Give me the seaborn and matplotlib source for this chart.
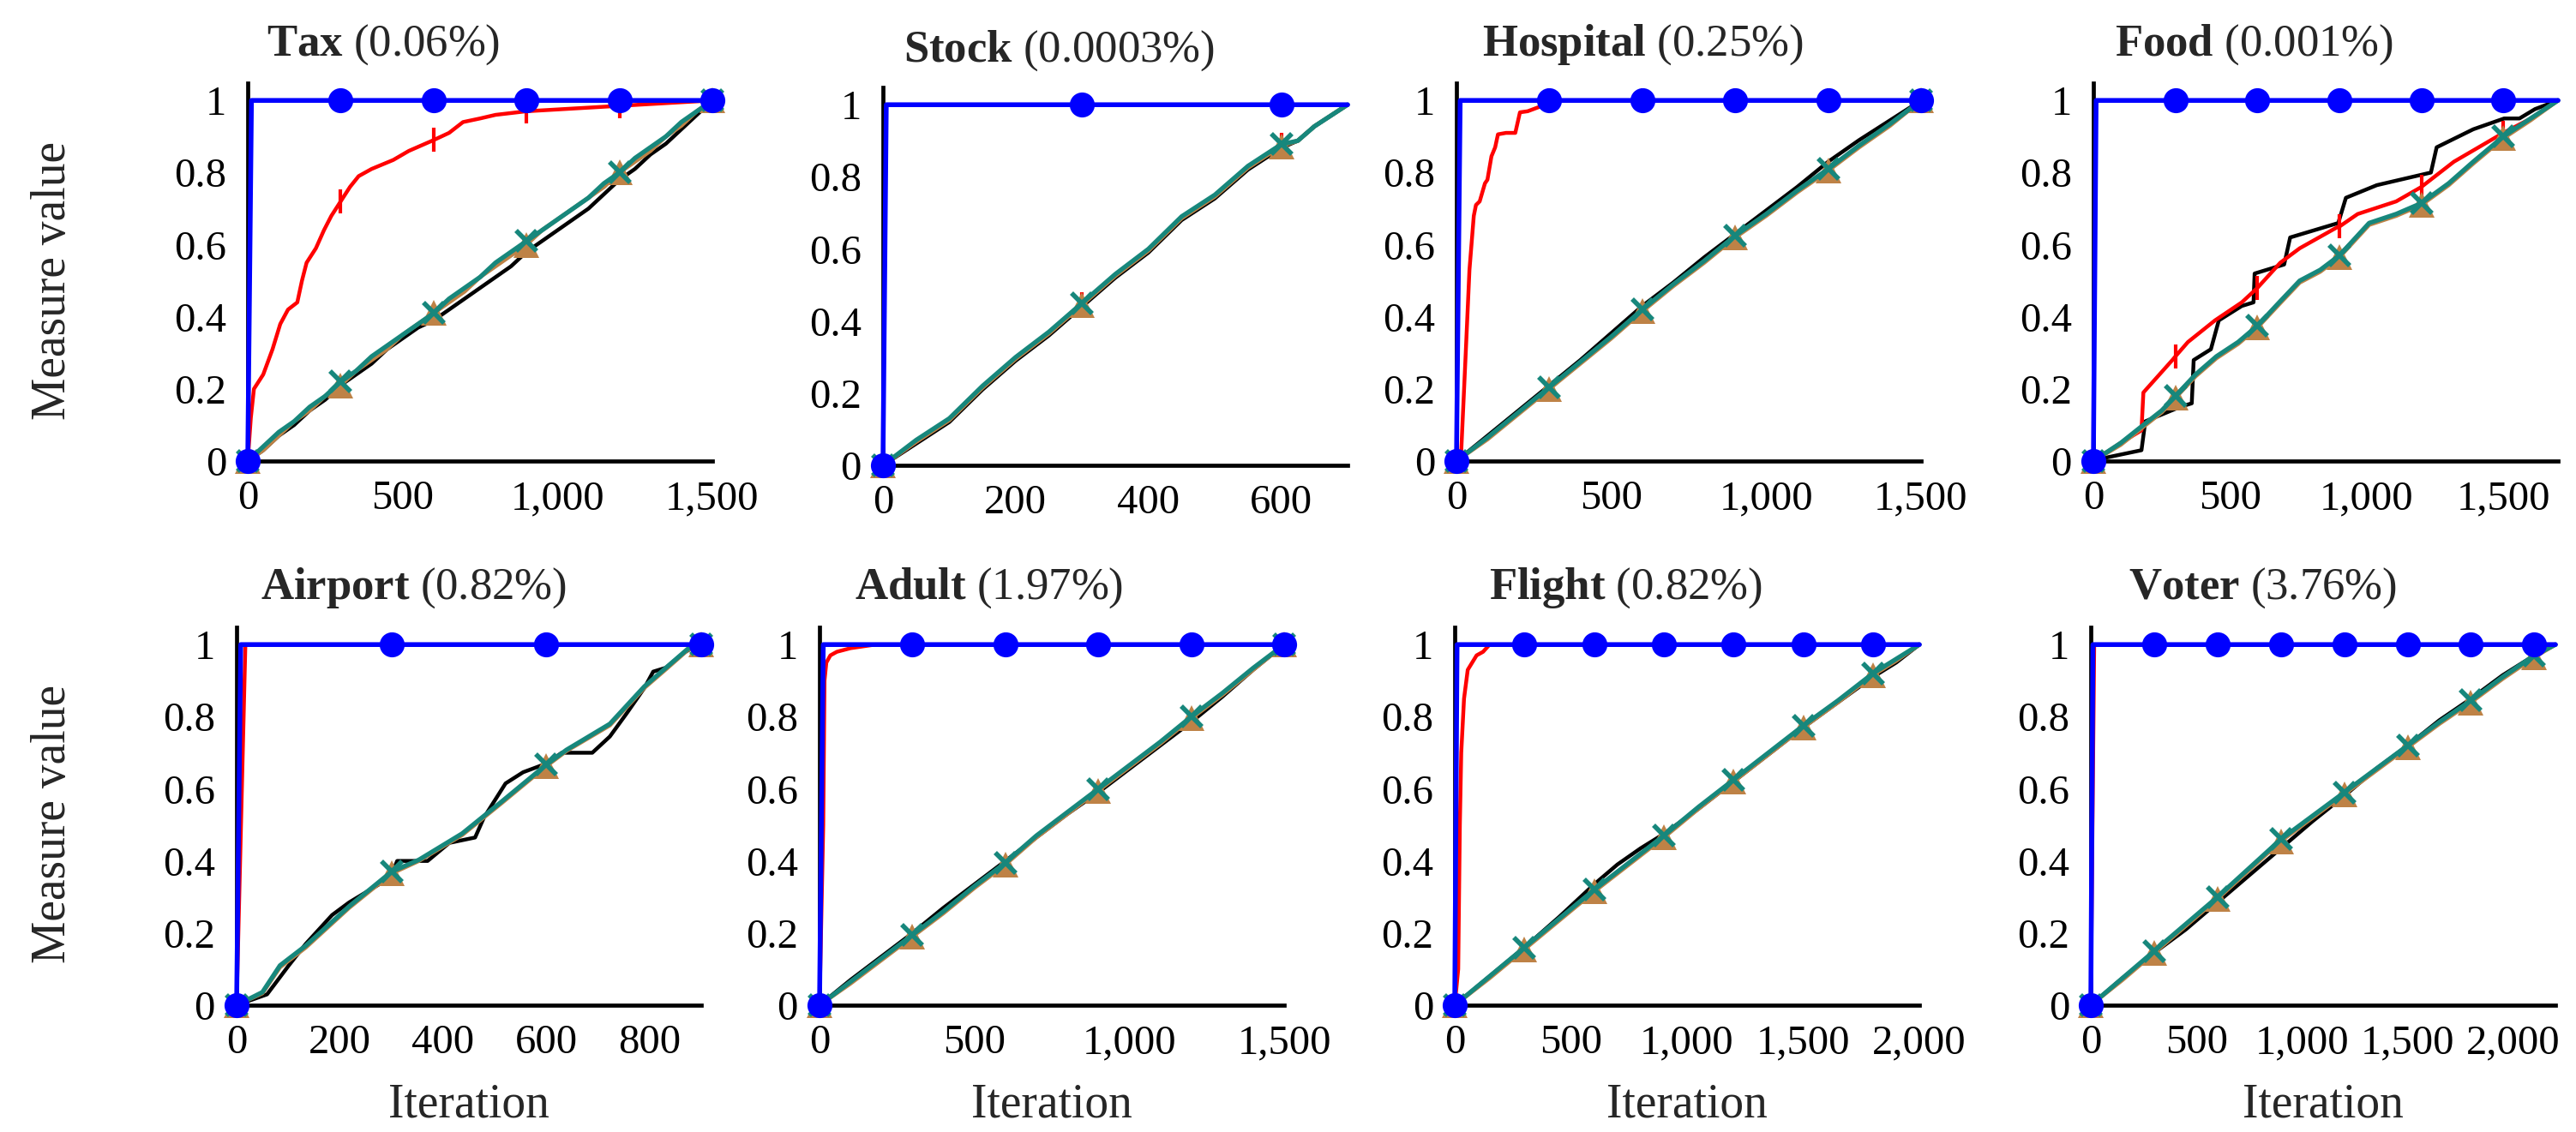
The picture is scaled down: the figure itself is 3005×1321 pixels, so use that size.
import matplotlib
matplotlib.use("Agg")
import matplotlib.pyplot as plt
import numpy as np
import pandas as pd
import seaborn as sns
from matplotlib.ticker import FuncFormatter

# ---- data ----
NAMES = ["Tax", "Stock", "Hospital", "Food", "Airport", "Adult", "Flight", "Voter"]
PCTS = ["0.06%", "0.0003%", "0.25%", "0.001%", "0.82%", "1.97%", "0.82%", "3.76%"]
XMAX = [1500, 700, 1500, 1700, 900, 1500, 2000, 2200]
XTICKS = [[0, 500, 1000, 1500], [0, 200, 400, 600], [0, 500, 1000, 1500], [0, 500, 1000, 1500],
          [0, 200, 400, 600, 800], [0, 500, 1000, 1500], [0, 500, 1000, 1500, 2000],
          [0, 500, 1000, 1500, 2000]]
YTICKS = [0, 0.2, 0.4, 0.6, 0.8, 1]

# Tax
tax_blue_x = [0, 12, 300, 600, 900, 1200, 1500]
tax_blue_y = [0, 1, 1, 1, 1, 1, 1]
tax_red_x = [0, 10, 20, 50, 80, 105, 130, 160, 175, 190, 220, 246, 270, 300, 330, 358, 400, 470, 520,
             600, 650, 695, 750, 800, 900, 1000, 1100, 1200, 1300, 1400, 1500]
tax_red_y = [0, 0.12, 0.2, 0.24, 0.31, 0.38, 0.42, 0.44, 0.5, 0.55, 0.59, 0.64, 0.68, 0.72, 0.76, 0.79,
             0.81, 0.835, 0.86, 0.89, 0.91, 0.94, 0.95, 0.96, 0.97, 0.975, 0.98, 0.985, 0.99, 0.995, 1.0]
tax_x = [0, 50, 100, 150, 200, 250, 300, 350, 400, 450, 500, 550, 600, 650, 700, 750, 800, 850, 900,
         950, 1000, 1050, 1100, 1150, 1200, 1250, 1300, 1350, 1400, 1450, 1500]
tax_black = [0, 0.03, 0.07, 0.10, 0.14, 0.17, 0.21, 0.24, 0.27, 0.31, 0.34, 0.37, 0.39, 0.42, 0.45, 0.48,
             0.51, 0.54, 0.58, 0.61, 0.64, 0.67, 0.70, 0.74, 0.78, 0.81, 0.85, 0.88, 0.92, 0.96, 1.0]
tax_orange = [0, 0.03, 0.07, 0.11, 0.14, 0.18, 0.21, 0.25, 0.28, 0.31, 0.35, 0.38, 0.41, 0.44, 0.47, 0.51,
              0.54, 0.57, 0.60, 0.64, 0.67, 0.70, 0.73, 0.76, 0.80, 0.83, 0.86, 0.90, 0.93, 0.97, 1.0]
tax_teal = [0, 0.04, 0.08, 0.11, 0.15, 0.18, 0.22, 0.25, 0.29, 0.32, 0.35, 0.38, 0.41, 0.45, 0.48, 0.51,
            0.55, 0.58, 0.61, 0.64, 0.67, 0.70, 0.73, 0.77, 0.80, 0.84, 0.87, 0.90, 0.94, 0.97, 1.0]

# Stock
stock_blue_x = [0, 5, 300, 600, 700]
stock_blue_y = [0, 1, 1, 1, 1]
stock_x = [0, 50, 100, 150, 200, 250, 300, 350, 400, 450, 500, 550, 600, 625, 650, 700]
stock_red = [0, 0.065, 0.128, 0.218, 0.298, 0.368, 0.447, 0.527, 0.598, 0.688, 0.748, 0.828, 0.888, 0.9,
             0.94, 1.0]
stock_black = [0, 0.06, 0.12, 0.21, 0.29, 0.36, 0.44, 0.52, 0.59, 0.68, 0.74, 0.82, 0.88, 0.90, 0.94, 1.0]
stock_orange = [0, 0.065, 0.125, 0.215, 0.295, 0.365, 0.445, 0.525, 0.595, 0.685, 0.745, 0.825, 0.885,
                0.9, 0.94, 1.0]
stock_teal = [0, 0.07, 0.13, 0.22, 0.30, 0.37, 0.45, 0.53, 0.60, 0.69, 0.75, 0.83, 0.89, 0.90, 0.94, 1.0]

# Hospital
hosp_blue_x = [0, 12, 300, 600, 900, 1200, 1500]
hosp_blue_y = [0, 1, 1, 1, 1, 1, 1]
hosp_red_x = [0, 14, 30, 42, 56, 63, 75, 92, 100, 113, 125, 134, 160, 190, 205, 230, 261, 290, 300,
              600, 900, 1200, 1500]
hosp_red_y = [0, 0.0, 0.3, 0.53, 0.68, 0.71, 0.72, 0.77, 0.78, 0.845, 0.87, 0.906, 0.91, 0.91, 0.967,
              0.97, 0.98, 0.99, 1.0, 1, 1, 1, 1]
hosp_x = [0, 100, 200, 300, 400, 500, 600, 700, 800, 900, 1000, 1100, 1200, 1300, 1400, 1500]
hosp_black = [0, 0.07, 0.14, 0.21, 0.28, 0.355, 0.43, 0.495, 0.565, 0.63, 0.695, 0.76, 0.83, 0.89, 0.945, 1.0]
hosp_orange = [0, 0.06, 0.13, 0.2, 0.27, 0.34, 0.415, 0.485, 0.55, 0.62, 0.68, 0.745, 0.805, 0.87, 0.93, 1.0]
hosp_teal = [0, 0.065, 0.135, 0.205, 0.275, 0.345, 0.42, 0.49, 0.555, 0.625, 0.685, 0.75, 0.81, 0.875,
             0.935, 1.0]

# Food
food_blue_x = [0, 10, 300, 600, 900, 1200, 1500, 1700]
food_blue_y = [0, 1, 1, 1, 1, 1, 1, 1]
food_red_x = [0, 100, 176, 183, 289, 300, 346, 445, 543, 600, 684, 755, 896, 900, 967, 1108, 1200,
              1319, 1500, 1601, 1700]
food_red_y = [0, 0.05, 0.085, 0.19, 0.28, 0.29, 0.33, 0.39, 0.44, 0.48, 0.55, 0.59, 0.65, 0.65, 0.685,
              0.72, 0.76, 0.83, 0.91, 0.95, 1.0]
food_black_x = [0, 50, 176, 190, 317, 360, 367, 430, 459, 543, 586, 590, 698, 720, 896, 924, 1037,
                1235, 1256, 1390, 1503, 1559, 1616, 1700]
food_black_y = [0, 0.01, 0.03, 0.11, 0.15, 0.16, 0.28, 0.31, 0.39, 0.43, 0.44, 0.52, 0.545, 0.62, 0.66,
                0.73, 0.765, 0.80, 0.87, 0.92, 0.95, 0.95, 0.976, 1.0]
food_x = [0, 100, 183, 250, 300, 374, 450, 530, 600, 680, 755, 830, 900, 1009, 1108, 1200, 1300, 1390,
          1500, 1600, 1700]
food_orange = [0, 0.045, 0.095, 0.135, 0.175, 0.235, 0.285, 0.325, 0.37, 0.435, 0.495, 0.525, 0.565,
               0.655, 0.68, 0.71, 0.765, 0.825, 0.895, 0.945, 1.0]
food_teal = [0, 0.05, 0.10, 0.14, 0.18, 0.24, 0.29, 0.33, 0.375, 0.44, 0.50, 0.53, 0.57, 0.66, 0.685,
             0.715, 0.77, 0.83, 0.90, 0.95, 1.0]

# Airport
air_blue_x = [0, 8, 300, 600, 900]
air_blue_y = [0, 1, 1, 1, 1]
air_red_x = [0, 17, 300, 600, 900]
air_red_y = [0, 1, 1, 1, 1]
air_black_x = [0, 59, 101, 134, 185, 218, 277, 300, 311, 370, 412, 462, 479, 521, 555, 600, 630, 689,
               723, 756, 790, 807, 832, 866, 882, 900]
air_black_y = [0, 0.03, 0.11, 0.17, 0.25, 0.285, 0.336, 0.36, 0.40, 0.40, 0.45, 0.465, 0.52, 0.615,
               0.646, 0.67, 0.70, 0.70, 0.745, 0.81, 0.88, 0.925, 0.936, 0.977, 0.99, 1.0]
air_x = [0, 50, 84, 134, 218, 300, 353, 437, 513, 600, 639, 723, 790, 832, 874, 900]
air_orange = [0, 0.033, 0.105, 0.16, 0.27, 0.365, 0.4, 0.472, 0.56, 0.663, 0.705, 0.776, 0.88, 0.932,
              0.985, 1.0]
air_teal = [0, 0.036, 0.11, 0.165, 0.274, 0.37, 0.403, 0.476, 0.564, 0.667, 0.708, 0.78, 0.884, 0.936,
            0.988, 1.0]

# Adult
adult_blue_x = [0, 12, 300, 600, 900, 1200, 1500]
adult_blue_y = [0, 1, 1, 1, 1, 1, 1]
adult_red_x = [0, 12, 16, 22, 35, 56, 100, 180, 300, 600, 900, 1200, 1500]
adult_red_y = [0, 0.5, 0.9, 0.95, 0.97, 0.98, 0.99, 1.0, 1, 1, 1, 1, 1]
adult_x = [0, 100, 200, 300, 400, 500, 600, 700, 800, 900, 1000, 1100, 1200, 1300, 1400, 1500]
adult_black = [0, 0.07, 0.135, 0.20, 0.27, 0.335, 0.40, 0.465, 0.53, 0.59, 0.655, 0.72, 0.785, 0.855,
               0.93, 1.0]
adult_orange = [0, 0.06, 0.125, 0.19, 0.255, 0.325, 0.39, 0.465, 0.53, 0.595, 0.66, 0.725, 0.795, 0.86,
                0.93, 1.0]
adult_teal = [0, 0.065, 0.13, 0.195, 0.26, 0.33, 0.395, 0.47, 0.535, 0.60, 0.665, 0.73, 0.80, 0.865,
              0.935, 1.0]

# Flight
flight_blue_x = [0, 10, 300, 600, 900, 1200, 1500, 1800, 2000]
flight_blue_y = [0, 1, 1, 1, 1, 1, 1, 1, 1]
flight_red_x = [0, 15, 22, 28, 40, 56, 75, 94, 122, 150, 300, 600, 900, 1200, 1500, 1800, 2000]
flight_red_y = [0, 0.1, 0.5, 0.7, 0.85, 0.93, 0.95, 0.97, 0.98, 1.0, 1, 1, 1, 1, 1, 1, 1]
flight_x = [0, 150, 300, 450, 600, 700, 800, 900, 1050, 1200, 1350, 1500, 1650, 1800, 1900, 2000]
flight_black = [0, 0.08, 0.16, 0.245, 0.335, 0.39, 0.435, 0.475, 0.545, 0.62, 0.695, 0.77, 0.84, 0.91,
                0.95, 1.0]
flight_orange = [0, 0.075, 0.155, 0.235, 0.315, 0.365, 0.415, 0.465, 0.545, 0.62, 0.695, 0.77, 0.84,
                 0.915, 0.955, 1.0]
flight_teal = [0, 0.08, 0.16, 0.24, 0.32, 0.37, 0.42, 0.47, 0.55, 0.625, 0.70, 0.775, 0.845, 0.92, 0.96, 1.0]

# Voter
voter_blue_x = [0, 10, 300, 600, 900, 1200, 1500, 1800, 2100, 2200]
voter_blue_y = [0, 1, 1, 1, 1, 1, 1, 1, 1, 1]
voter_red_x = [0, 16, 300, 600, 900, 1200, 1500, 1800, 2100, 2200]
voter_red_y = [0, 1, 1, 1, 1, 1, 1, 1, 1, 1]
voter_x = [0, 150, 300, 450, 600, 750, 900, 1050, 1200, 1350, 1500, 1650, 1800, 1950, 2100, 2200]
voter_black = [0, 0.075, 0.145, 0.21, 0.285, 0.36, 0.435, 0.51, 0.58, 0.655, 0.72, 0.79, 0.85, 0.915,
               0.97, 1.0]
voter_orange = [0, 0.07, 0.145, 0.22, 0.295, 0.375, 0.455, 0.52, 0.585, 0.65, 0.715, 0.78, 0.84, 0.905,
                0.965, 1.0]
voter_teal = [0, 0.075, 0.15, 0.225, 0.30, 0.38, 0.46, 0.525, 0.59, 0.655, 0.72, 0.785, 0.845, 0.91,
              0.97, 1.0]

# per panel: (blue, red, black, orange, teal) as (x, y) pairs
SERIES = [
    [(tax_blue_x, tax_blue_y), (tax_red_x, tax_red_y), (tax_x, tax_black), (tax_x, tax_orange), (tax_x, tax_teal)],
    [(stock_blue_x, stock_blue_y), (stock_x, stock_red), (stock_x, stock_black), (stock_x, stock_orange),
     (stock_x, stock_teal)],
    [(hosp_blue_x, hosp_blue_y), (hosp_red_x, hosp_red_y), (hosp_x, hosp_black), (hosp_x, hosp_orange),
     (hosp_x, hosp_teal)],
    [(food_blue_x, food_blue_y), (food_red_x, food_red_y), (food_black_x, food_black_y), (food_x, food_orange),
     (food_x, food_teal)],
    [(air_blue_x, air_blue_y), (air_red_x, air_red_y), (air_black_x, air_black_y), (air_x, air_orange),
     (air_x, air_teal)],
    [(adult_blue_x, adult_blue_y), (adult_red_x, adult_red_y), (adult_x, adult_black), (adult_x, adult_orange),
     (adult_x, adult_teal)],
    [(flight_blue_x, flight_blue_y), (flight_red_x, flight_red_y), (flight_x, flight_black),
     (flight_x, flight_orange), (flight_x, flight_teal)],
    [(voter_blue_x, voter_blue_y), (voter_red_x, voter_red_y), (voter_x, voter_black), (voter_x, voter_orange),
     (voter_x, voter_teal)],
]

# ---- layout (pixels of the 3005x1321 canvas) ----
W, H = 3005, 1321
AX_W, AX_H = 542, 441
LEFTS = [289, 1030, 1699, 2442, 276, 956, 1697, 2439]
BOTTOMS = [538, 543, 538, 538, 1173, 1173, 1173, 1173]
TITLE_X = [447, 1236, 1916, 2629, 483, 1154, 1897, 2640]
TITLE_BASE = [65, 72, 65, 65, 699, 699, 699, 699]

BLUE, RED, BLACK, ORANGE, TEAL = "#0000ff", "#ff0000", "#000000", "#be8246", "#17877c"
STYLES = [
    # color, lw, marker, ms, mew, zorder
    (BLUE, 4.0, "o", 21, 0, 7),
    (RED, 3.2, "|", 20, 3, 4),
    (BLACK, 3.2, None, 0, 0, 3),
    (ORANGE, 3.4, "^", 21, 0, 5),
    (TEAL, 3.8, "x", 17, 4, 6),
]
DRAW_ORDER = [2, 1, 3, 4, 0]

sns.set_style("white")
plt.rcParams["font.family"] = ["Liberation Serif", "DejaVu Serif"]
plt.rcParams["mathtext.fontset"] = "custom"
plt.rcParams["mathtext.rm"] = "Liberation Serif"
plt.rcParams["mathtext.bf"] = "Liberation Serif:bold"

fig = plt.figure(figsize=(W / 100, H / 100), dpi=100)

for i in range(8):
    ax = fig.add_axes([LEFTS[i] / W, 1 - BOTTOMS[i] / H, AX_W / W, AX_H / H])
    for s in DRAW_ORDER:
        xs, ys = SERIES[i][s]
        color, lw, marker, ms, mew, z = STYLES[s]
        df = pd.DataFrame({"it": xs, "val": ys})
        kw = {}
        if marker is not None:
            kw = dict(marker=marker, markersize=ms, markeredgewidth=mew,
                      markeredgecolor=color, markerfacecolor=color,
                      markevery=[x % 300 == 0 for x in xs])
        sns.lineplot(data=df, x="it", y="val", ax=ax, color=color, lw=lw, sort=False,
                     estimator=None, zorder=z, clip_on=False, **kw)

    ax.set_xlim(0, XMAX[i])
    ax.set_ylim(0, 1.048)
    ax.set_xticks(XTICKS[i])
    ax.set_yticks(YTICKS)
    ax.xaxis.set_major_formatter(FuncFormatter(lambda v, p: f"{int(v):,}"))
    ax.yaxis.set_major_formatter(FuncFormatter(lambda v, p: f"{v:g}"))
    ax.tick_params(direction="in", length=19, width=1.4, color="#a8a8a8", labelsize=35,
                   labelcolor="black")
    ax.tick_params(axis="x", pad=16)
    ax.tick_params(axis="y", pad=18)
    for side in ["top", "right"]:
        ax.spines[side].set_visible(False)
    for side in ["left", "bottom"]:
        ax.spines[side].set_linewidth(3.4)
        ax.spines[side].set_color("black")
        ax.spines[side].set_zorder(2.5)
    ax.set_xlabel("")
    ax.set_ylabel("")
    ax.set_facecolor("white")

    fig.text(TITLE_X[i] / W, 1 - TITLE_BASE[i] / H, r"$\mathbf{" + NAMES[i] + "}$ (" + PCTS[i] + ")",
             ha="center", va="baseline", fontsize=38)

    if i >= 4:
        fig.text((LEFTS[i] + AX_W / 2) / W, 1 - 1303 / H, "Iteration", ha="center", va="baseline",
                 fontsize=40)

for yc in [327, 962]:
    fig.text(62 / W, 1 - yc / H, "Measure value", rotation=90, ha="center", va="center", fontsize=40)

fig.savefig("out.png", dpi=100, facecolor="white")
